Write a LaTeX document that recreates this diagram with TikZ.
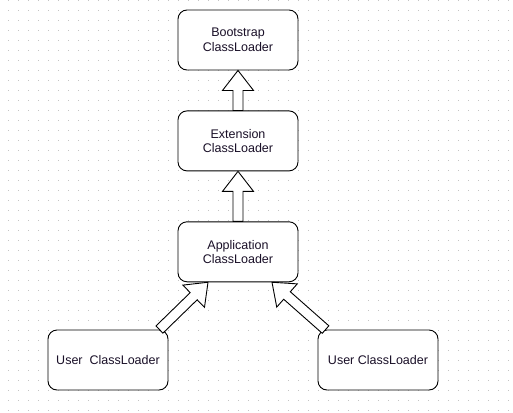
\documentclass[tikz,border=0pt]{standalone}
\usepackage{fontspec}
\setmainfont{Liberation Sans}
\usetikzlibrary{positioning,calc}
\definecolor{loaderInk}{HTML}{000000}
\definecolor{loaderText}{HTML}{1A1028}
\definecolor{loaderGrid}{HTML}{C4C4C4}

% hollow block arrow from #1 (tail) to #2 (tip)
\newcommand{\fatarrow}[2]{%
  \coordinate (fa-s) at #1;
  \coordinate (fa-t) at #2;
  \coordinate (fa-h) at ($(fa-t)!20pt!(fa-s)$);
  \draw[fatarr] ($(fa-s)!5pt!90:(fa-t)$) -- ($(fa-h)!5pt!90:(fa-t)$) -- ($(fa-h)!15.5pt!90:(fa-t)$)
    -- (fa-t) -- ($(fa-h)!15.5pt!-90:(fa-t)$) -- ($(fa-h)!5pt!-90:(fa-t)$) -- ($(fa-s)!5pt!-90:(fa-t)$) -- cycle;}

\begin{document}
\begin{tikzpicture}[
  x=1pt,y=-1pt,
  font=\fontsize{12.5}{14.5}\selectfont,
  loader/.style={draw=loaderInk,fill=white,rounded corners=9pt,minimum width=120pt,minimum height=60pt,align=center,line width=0.9pt,inner sep=0pt,text=loaderText},
  fatarr/.style={draw=loaderInk,fill=white,line width=0.9pt,line join=miter}
]
  \useasboundingbox (0,0) rectangle (513,412);
  % dotted background
  \foreach \gx in {8,18,...,508}
    \foreach \gy in {0,10,...,410}
      \fill[loaderGrid] (\gx,\gy) rectangle ++(1.2,1.2);
  \node[loader] (boot) at (238,40) {Bootstrap\\ClassLoader};
  \node[loader,below=40pt of boot] (ext) {Extension\\ClassLoader};
  \node[loader,below=50pt of ext] (app) {Application\\ClassLoader};
  \node[loader] (userA) at (108,360) {User~ ClassLoader};
  \node[loader] (userB) at (378,360) {User ClassLoader};
  \fatarrow{(ext.north)}{(boot.south)}
  \fatarrow{(app.north)}{(ext.south)}
  \fatarrow{($(userA.north east)+(-9,0)$)}{($(app.south)+(-30,0)$)}
  \fatarrow{($(userB.north west)+(8,0)$)}{($(app.south)+(34,0)$)}
\end{tikzpicture}
\end{document}
